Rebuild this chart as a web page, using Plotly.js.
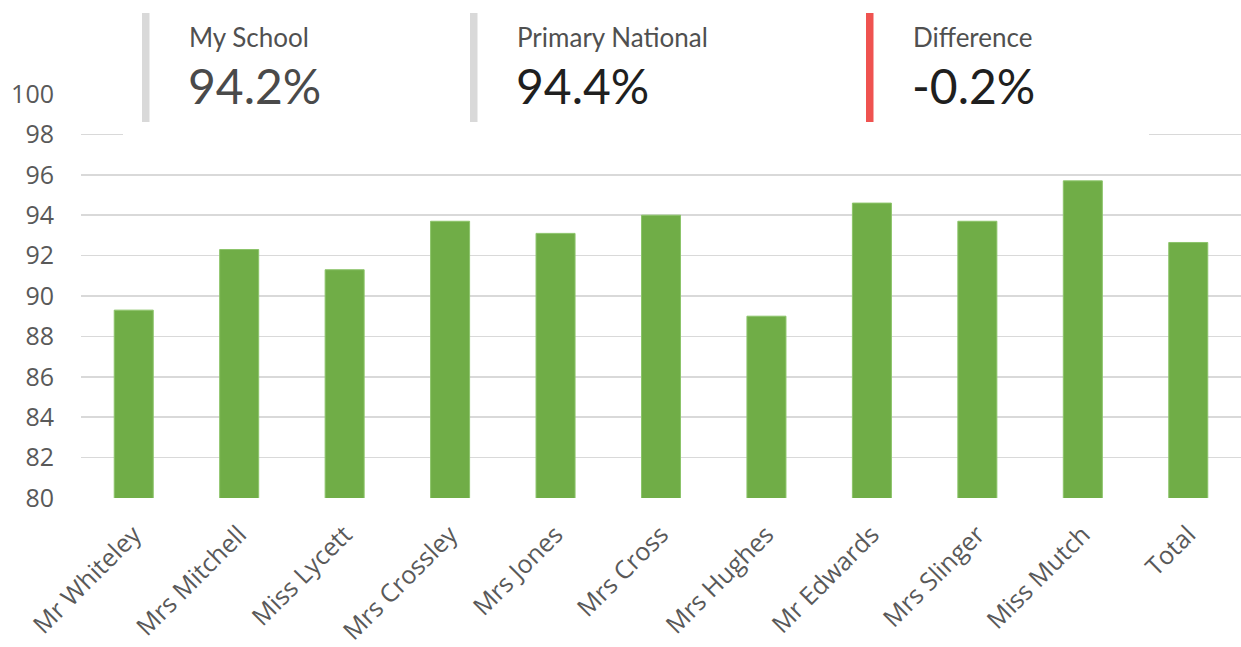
<!DOCTYPE html>
<html>
<head>
<meta charset="utf-8">
<script src="https://cdn.plot.ly/plotly-3.0.1.min.js"></script>
<style>html,body{margin:0;padding:0;background:#fff;}#chart{width:1241px;height:647px;}</style>
</head>
<body>
<div id="chart"></div>
<script>
const categories = ["Mr Whiteley","Mrs Mitchell","Miss Lycett","Mrs Crossley","Mrs Jones","Mrs Cross","Mrs Hughes","Mr Edwards","Mrs Slinger","Miss Mutch","Total"];
const attendance = [89.3, 92.3, 91.3, 93.7, 93.1, 94.0, 89.0, 94.6, 93.7, 95.7, 92.65];
const yTicks = [80,82,84,86,88,90,92,94,96,98,100];
const kpiLabels = ["My School","Primary National","Difference"];
const kpiValues = ["94.2%","94.4%","-0.2%"];

const W = 1241, H = 647;
const L = 81, R = 0, T = 94, B = 149;
const pw = W - L - R, ph = H - T - B;
const px = x => (x - L) / pw;
const py = y => (H - B - y) / ph;

const kpiX = [146, 474, 870];
const kpiBarColor = ["#d9d9d9","#d9d9d9","#ef5350"];
const kpiValColor = ["#4a4a4a","#1f1f1f","#1f1f1f"];

const shapes = [{type:'rect', xref:'paper', yref:'paper', x0:px(123), x1:px(1149), y0:py(137), y1:py(-5), fillcolor:'#ffffff', line:{width:0}, layer:'above'}];
const annotations = [];
kpiX.forEach((x,i) => {
  shapes.push({type:'rect', xref:'paper', yref:'paper', x0:px(x-4), x1:px(x+3.5), y0:py(122), y1:py(13), fillcolor:kpiBarColor[i], line:{width:0}, layer:'above'});
  annotations.push({xref:'paper', yref:'paper', x:px(x+41), y:py(37), xanchor:'left', yanchor:'middle', showarrow:false, text:kpiLabels[i], font:{family:'Lato', size:26, color:'#505050'}});
  annotations.push({xref:'paper', yref:'paper', x:px(x+40), y:py(85), xanchor:'left', yanchor:'middle', showarrow:false, text:kpiValues[i], font:{family:'Lato', size:48, color:kpiValColor[i]}});
});

const data = [{type:'bar', x:categories, y:attendance, marker:{color:'#70ad47', line:{color:'#8cc46a', width:1}}, hoverinfo:'x+y'}];
const layout = {
  width: W, height: H,
  margin:{l:L, r:R, t:T, b:B, pad:0},
  paper_bgcolor:'#ffffff', plot_bgcolor:'#ffffff',
  bargap:0.63,
  showlegend:false,
  xaxis:{type:'category', tickangle:-45, tickfont:{family:'Open Sans', size:25, color:'#595959'}, showgrid:false, zeroline:false, showline:false, ticks:'', ticklabelstandoff:16},
  yaxis:{range:[80,100], tickvals:yTicks, ticktext:yTicks.map(String), tickfont:{family:'Open Sans', size:25, color:'#595959'}, showgrid:true, gridcolor:'#d9d9d9', gridwidth:1.5, zeroline:false, showline:false, ticks:'', ticklabelstandoff:26},
  shapes, annotations
};
Plotly.newPlot('chart', data, layout, {displayModeBar:false, staticPlot:true});
</script>
</body>
</html>
